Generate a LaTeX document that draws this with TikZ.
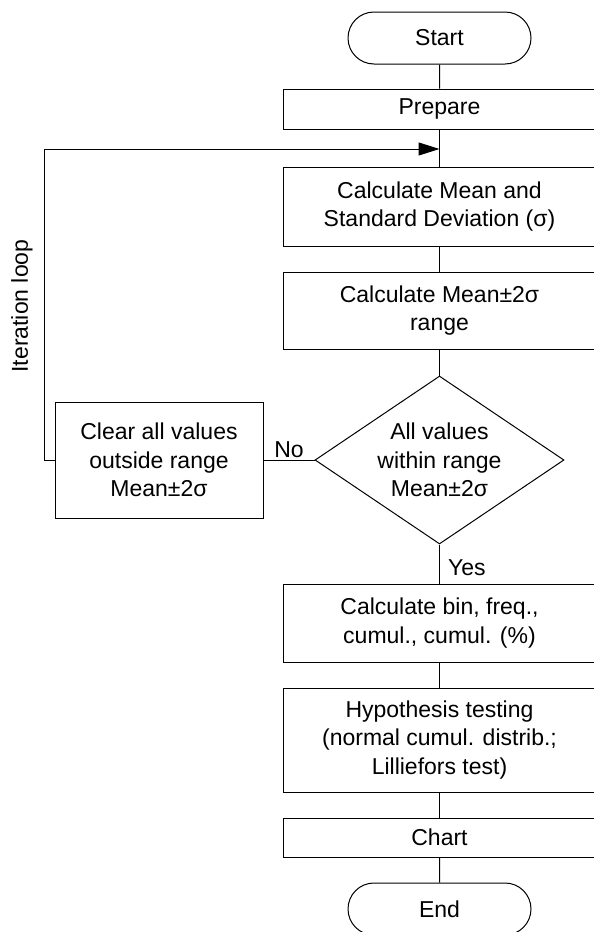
\documentclass[tikz,border=0pt]{standalone}
\usepackage{fontspec}
\setmainfont{Liberation Sans}
\usetikzlibrary{positioning}
\usetikzlibrary{shapes.misc}
\usetikzlibrary{shapes.geometric}
\usetikzlibrary{arrows.meta}
\tikzset{>={Triangle[length=21pt,width=13pt]}}
\tikzset{
	every node/.append style={font=\fontsize{23}{28.7}\selectfont},
	% line style
	flowline/.style={line width=1pt},
	% terminator
	termbox/.style={draw,line width=1pt,rounded rectangle,minimum width=183pt,minimum height=52pt,inner sep=0pt},
	% process box
	procbox/.style={draw,line width=1pt,rectangle,minimum width=313pt,align=center,inner sep=0pt},
	% decision
	decbox/.style={draw,line width=1pt,diamond,aspect=1.48,minimum width=249pt,minimum height=168pt,align=center,inner sep=0pt},
}
\begin{document}
\begin{tikzpicture}[x=1pt,y=-1pt]
\useasboundingbox (0,0) rectangle (594,932);
% the main column
\node[termbox] (start) at (439.5,38) {Start};
\node[procbox,minimum height=40pt] (prep) at (439.5,109) {Prepare};
\coordinate (merge) at (439.5,149);
\node[procbox,minimum height=79pt] (calcms) at (439.5,206.5) {Calculate Mean and\\Standard Deviation (σ)};
\node[procbox,minimum height=77pt] (calcrange) at (439.5,310.5) {Calculate Mean±2σ\\range};
\node[decbox] (check) at (439.5,460) {All values\\within range\\Mean±2σ};
\node[procbox,minimum height=78pt] (calcbin) at (439.5,623) {Calculate bin, freq.,\\cumul., cumul. (\%)};
\node[procbox,minimum height=104pt] (hypo) at (439.5,740) {Hypothesis testing\\(normal cumul. distrib.;\\Lilliefors test)};
\node[procbox,minimum height=39pt] (chart) at (439.5,837.5) {Chart};
\node[termbox] (end) at (439.5,909) {End};
% the side branch
\node[procbox,minimum width=208pt,minimum height=116pt] (clear) at (159,460) {Clear all values\\outside range\\Mean±2σ};
\coordinate (loopbot) at (44,460);
\coordinate (looptop) at (44,149);
% connectors
\draw[flowline] (start) -- (prep);
\draw[flowline] (prep) -- (calcms);
\draw[flowline] (calcms) -- (calcrange);
\draw[flowline] (calcrange) -- (check);
\draw[flowline] (check.south) -- node[pos=0.6,anchor=west,inner sep=8pt] (yes) {Yes} (calcbin.north);
\draw[flowline] (check.west) -- node[above,inner sep=2pt] (no) {No} (clear.east);
\draw[flowline] (calcbin) -- (hypo);
\draw[flowline] (hypo) -- (chart);
\draw[flowline] (chart) -- (end);
% the iteration loop
\draw[flowline,->] (clear.west) -- (loopbot) -- (looptop) -- (merge);
\node[rotate=90] (iter) at (22,306) {Iteration loop};
\end{tikzpicture}
\end{document}
